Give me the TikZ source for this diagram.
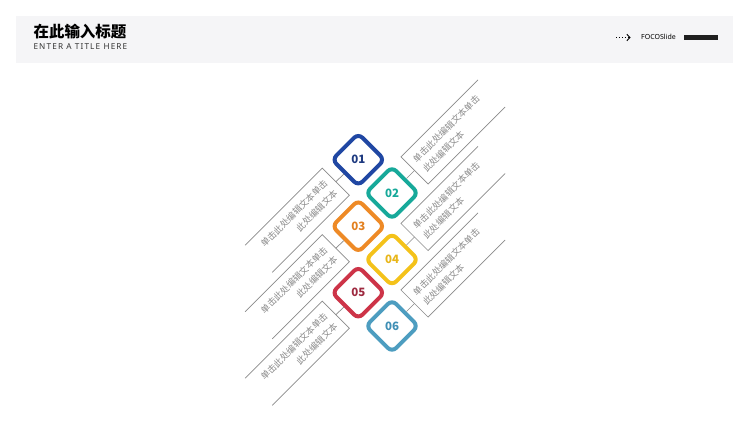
\documentclass[tikz,border=0pt]{standalone}
\usepackage{fontspec}
\setmainfont{Noto Sans}
\newfontfamily\cjk{Noto Sans CJK SC}
\usetikzlibrary{arrows.meta}
\definecolor{bandgray}{HTML}{F5F5F7}
\definecolor{linegray}{HTML}{8A8A8A}
\definecolor{txtgray}{HTML}{8C8C8C}
\definecolor{cA}{HTML}{2047A3}
\definecolor{cAt}{HTML}{1E3A80}
\definecolor{cB}{HTML}{17A99A}
\definecolor{cBt}{HTML}{17A99A}
\definecolor{cC}{HTML}{EE8A26}
\definecolor{cCt}{HTML}{E3801F}
\definecolor{cD}{HTML}{F4C21A}
\definecolor{cDt}{HTML}{E8B61A}
\definecolor{cE}{HTML}{CD3448}
\definecolor{cEt}{HTML}{9E2A40}
\definecolor{cF}{HTML}{4D9DC0}
\definecolor{cFt}{HTML}{3F8FB5}
\begin{document}
\begin{tikzpicture}[x=1pt,y=-1pt,
  diam/.style={draw=#1, line width=4pt, fill=white, rounded corners=6pt,
    minimum size=37pt, rotate=45, inner sep=0pt},
  num/.style={text=#1, inner sep=0pt, font=\cjk\bfseries\fontsize{11.5}{11.5}\selectfont},
  txtbox/.style={rotate=45, minimum width=109pt, minimum height=38.5pt,
    text width=95pt, inner xsep=7pt, inner ysep=0pt, outer sep=0pt,
    font=\cjk\fontsize{9}{14}\selectfont, text=txtgray},
  leftbox/.style={txtbox, anchor=east, align=right},
  rightbox/.style={txtbox, anchor=west, align=left},
  edge/.style={draw=linegray, line width=0.7pt}]
\useasboundingbox (0,0) rectangle (750,422);
\fill[white] (0,0) rectangle (750,422);
% header
\fill[bandgray] (16,15.7) rectangle (733.3,63.3);
\node[anchor=base west, inner sep=0pt, font=\cjk\bfseries\fontsize{15.5}{15.5}\selectfont] (title) at (33.3,37.5) {在此输入标题};
\node[anchor=base west, inner sep=0pt, text=black!80, font=\fontsize{8.2}{8.2}\selectfont\addfontfeature{LetterSpace=14}] (sub) at (33.3,49.3) {ENTER A TITLE HERE};
\coordinate (a0) at (616,37.5);
\coordinate (a1) at (630.5,37.5);
\draw[dotted, line width=0.9pt, -{Straight Barb[length=3pt,width=6.5pt,line width=0.9pt]}] (a0) -- (a1);
\node[anchor=base west, inner sep=0pt, font=\fontsize{7}{7}\selectfont] (brand) at (641,40) {FOCOSlide};
\fill[black!88] (684.3,35) rectangle (718.3,40);
% diamonds
\node[diam=cA] (d1) at (358.3,159.7) {};
\node[diam=cB] (d2) at (392,193) {};
\node[diam=cC] (d3) at (358.3,226.2) {};
\node[diam=cD] (d4) at (392,259.5) {};
\node[diam=cE] (d5) at (358.3,292.7) {};
\node[diam=cF] (d6) at (392,326) {};
\node[num=cAt] (n1) at (d1) {01};
\node[num=cBt] (n2) at (d2) {02};
\node[num=cCt] (n3) at (d3) {03};
\node[num=cDt] (n4) at (d4) {04};
\node[num=cEt] (n5) at (d5) {05};
\node[num=cFt] (n6) at (d6) {06};
% text boxes
\node[leftbox] (b1) at (335.8,181.7) {单击此处编辑文本单击\\此处编辑文本};
\node[rightbox] (b2) at (414.5,170.5) {单击此处编辑文本单击\\此处编辑文本};
\node[leftbox] (b3) at (335.8,248.2) {单击此处编辑文本单击\\此处编辑文本};
\node[rightbox] (b4) at (414.5,237) {单击此处编辑文本单击\\此处编辑文本};
\node[leftbox] (b5) at (335.8,314.7) {单击此处编辑文本单击\\此处编辑文本};
\node[rightbox] (b6) at (414.5,303.5) {单击此处编辑文本单击\\此处编辑文本};
\foreach \b in {b1,b3,b5}
  \draw[edge] (\b.north west) -- (\b.north east) -- (\b.south east) -- (\b.south west);
\foreach \b in {b2,b4,b6}
  \draw[edge] (\b.north east) -- (\b.north west) -- (\b.south west) -- (\b.south east);
% connectors
\draw[edge] (d1.west) -- (b1.east);
\draw[edge] (d3.west) -- (b3.east);
\draw[edge] (d5.west) -- (b5.east);
\draw[edge] (d2.east) -- (b2.west);
\draw[edge] (d4.east) -- (b4.west);
\draw[edge] (d6.east) -- (b6.west);
\end{tikzpicture}
\end{document}
